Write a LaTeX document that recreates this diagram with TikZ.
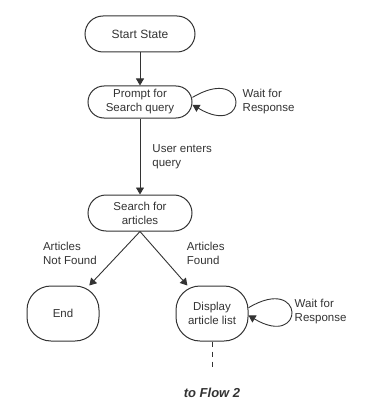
\documentclass[tikz,border=0pt]{standalone}
\usepackage{fontspec}
\setmainfont{Liberation Sans}
\usetikzlibrary{arrows.meta,positioning}
\definecolor{ink}{HTML}{333333}
\tikzset{
  term/.style={draw=ink, line width=1pt, rounded corners=18pt, minimum width=110pt, minimum height=36pt, align=center, inner sep=0pt, text=ink},
  stepnode/.style={draw=ink, line width=1pt, rounded corners=16pt, minimum width=104pt, minimum height=32pt, align=center, inner sep=0pt, text=ink},
  roundnode/.style={draw=ink, line width=1pt, rounded corners=24pt, minimum width=72pt, minimum height=55pt, align=center, inner sep=0pt, text=ink},
  lab/.style={align=left, text=ink, inner sep=0pt},
  arrow/.style={-{Triangle[length=7pt,width=8pt]}, line width=0.9pt, draw=ink},
}

\begin{document}
\begin{tikzpicture}[x=1pt,y=1pt,font=\fontsize{11.5}{14}\selectfont]
\useasboundingbox (0,0) rectangle (373,-409);
% states of the search flow
\node[term, font=\fontsize{12}{14}\selectfont] (start) at (140,-34) {Start State};
\node[stepnode, below=33pt of start] (prompt) {Prompt for\\Search query};
\node[term, minimum width=104pt, below=76pt of prompt] (search) {Search for\\articles};
\node[roundnode, below=54pt of search, xshift=-77pt] (endst) {End};
\node[roundnode, below=54pt of search, xshift=72pt] (display) {Display\\article list};

\draw[arrow] (start) -- (prompt);
\draw[arrow] (prompt) -- node[lab, right=12pt]{User enters\\query} (search);
\draw[arrow] (search.south) -- node[lab, left=22pt, pos=0.41]{Articles\\Not Found} (endst);
\draw[arrow] (search.south) -- node[lab, right=27pt, pos=0.41]{Articles\\Found} (display);

% waiting loops
\draw[arrow] (prompt.5) .. controls +(57,34) and +(57,-34) .. node[lab, right=7pt, pos=0.5]{Wait for\\Response} (prompt.-3);
\draw[arrow] (display.9) .. controls +(57,34) and +(57,-34) .. node[lab, right=3pt, pos=0.5]{Wait for\\Response} (display.-3);

% hand-over to the next flow
\coordinate[below=27pt of display] (flow);
\draw[ink, line width=0.9pt, dash pattern=on 5pt off 5pt] (display) -- (flow);
\node[text=ink, inner sep=0pt, font=\bfseries\itshape\fontsize{13}{15}\selectfont, below=19pt of flow] (next) {to Flow 2};
\end{tikzpicture}
\end{document}
